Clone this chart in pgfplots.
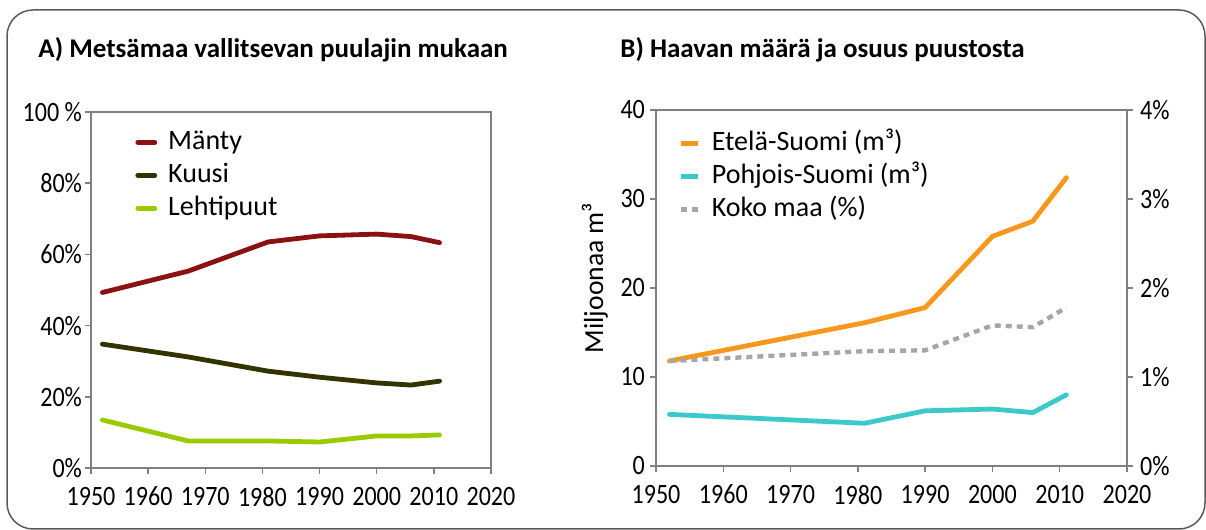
\documentclass[border=0pt]{standalone}
\usepackage{pgfplots}
\pgfplotsset{compat=1.18}
\usepackage{fontspec}
\setmainfont{Carlito}
\newfontfamily\tickfont{Carlito}[FakeStretch=0.86]
\definecolor{manty}{RGB}{139,16,16}
\definecolor{kuusi}{RGB}{51,51,0}
\definecolor{lehti}{RGB}{153,204,0}
\definecolor{etela}{RGB}{247,152,29}
\definecolor{pohjois}{RGB}{60,201,201}
\definecolor{koko}{RGB}{166,166,166}
\definecolor{axgray}{RGB}{128,128,128}
\definecolor{framegray}{RGB}{90,90,90}
\pgfplotsset{
  base/.style={
    scale only axis,
    axis line style={draw=axgray, line width=0.75pt},
    tick style={draw=axgray, line width=0.75pt},
    tick align=outside,
    major tick length=3pt,
    tick label style={font=\tickfont\fontsize{14}{16}\selectfont},
    /pgf/number format/assume math mode=true,
    /pgf/number format/1000 sep={},
    xmin=1950, xmax=2020,
    xtick={1950,1960,...,2020},
    xticklabel style={yshift=-3pt},
    legend cell align=left,
    legend style={draw=none, fill=none, inner sep=0pt, font=\fontsize{14}{16}\selectfont, row sep=4.5pt,
      nodes={text height=9.5pt, text depth=2.5pt, inner ysep=0pt, inner xsep=2pt},
      /tikz/every odd column/.append style={column sep=3.5pt}},
    legend image code/.code={\draw[#1, line width=2.4pt] (0pt,0pt) -- (8.5pt,0pt);},
  },
  dline/.style={line width=2.4pt, line join=round, line cap=round},
}
\begin{document}
\begin{tikzpicture}
\useasboundingbox (0,0) rectangle (603pt,265pt);
\draw[framegray, line width=0.75pt, rounded corners=13pt] (3.5pt,0.5pt) rectangle (602.5pt,260pt);
\node[anchor=base west, inner sep=0pt, font=\fontsize{13.5}{16}\selectfont\bfseries] at (19pt,236pt) {A) Metsämaa vallitsevan puulajin mukaan};
\node[anchor=base west, inner sep=0pt, font=\fontsize{13.5}{16}\selectfont\bfseries] at (310pt,236pt) {B) Haavan määrä ja osuus puustosta};

\begin{axis}[base,
  at={(45.5pt,31pt)}, anchor=south west,
  width=200pt, height=178pt,
  ymin=0, ymax=100,
  ytick={0,20,40,60,80,100},
  yticklabels={0\%,20\%,40\%,60\%,80\%,100 \%},
  yticklabel style={xshift=2pt},
  xtick pos=bottom, ytick pos=left,
  legend style={at={(0.11,0.95)}, anchor=north west},
]
\addplot[dline, color=manty] coordinates {(1952,49.3) (1967,55.3) (1981,63.5) (1990,65.2) (2000,65.7) (2006,65.0) (2011,63.3)};
\addlegendentry{Mänty}
\addplot[dline, color=kuusi] coordinates {(1952,34.8) (1967,31.2) (1981,27.2) (1990,25.5) (2000,23.9) (2006,23.3) (2011,24.4)};
\addlegendentry{Kuusi}
\addplot[dline, color=lehti] coordinates {(1952,13.5) (1967,7.6) (1981,7.6) (1990,7.3) (2000,9.0) (2006,9.0) (2011,9.3)};
\addlegendentry{Lehtipuut}
\end{axis}

\begin{axis}[base,
  at={(328pt,32pt)}, anchor=south west,
  width=235.5pt, height=178pt,
  ymin=0, ymax=40,
  ytick={0,10,20,30,40},
  yticklabel style={xshift=1pt},
  xtick pos=bottom, ytick pos=left,
  ylabel={Miljoonaa m³},
  ylabel style={at={(axis description cs:-0.13,0.528)}, anchor=center, font=\fontsize{13.8}{16}\selectfont},
]
\addplot[dline, color=etela] coordinates {(1952,11.8) (1981,16.1) (1990,17.8) (2000,25.8) (2006,27.5) (2011,32.4)};
\addplot[dline, color=pohjois] coordinates {(1952,5.8) (1981,4.8) (1990,6.2) (2000,6.4) (2006,6.0) (2011,8.0)};
\end{axis}

\begin{axis}[base,
  at={(328pt,32pt)}, anchor=south west,
  width=235.5pt, height=178pt,
  ymin=0, ymax=4,
  ytick={0,1,2,3,4},
  yticklabels={0\%,1\%,2\%,3\%,4\%},
  axis x line=none,
  axis y line*=right,
  ytick pos=right,
  legend style={at={(0.048,0.94)}, anchor=north west},
]
\addlegendimage{line width=2.4pt, color=etela}
\addlegendentry{Etelä-Suomi (m³)}
\addlegendimage{line width=2.4pt, color=pohjois}
\addlegendentry{Pohjois-Suomi (m³)}
\addplot[line width=2.2pt, color=koko, dash pattern=on 3pt off 2.5pt] coordinates {(1952,1.18) (1981,1.29) (1990,1.30) (2000,1.58) (2006,1.56) (2011,1.78)};
\addlegendentry{Koko maa (\%)}
\end{axis}
\end{tikzpicture}
\end{document}
